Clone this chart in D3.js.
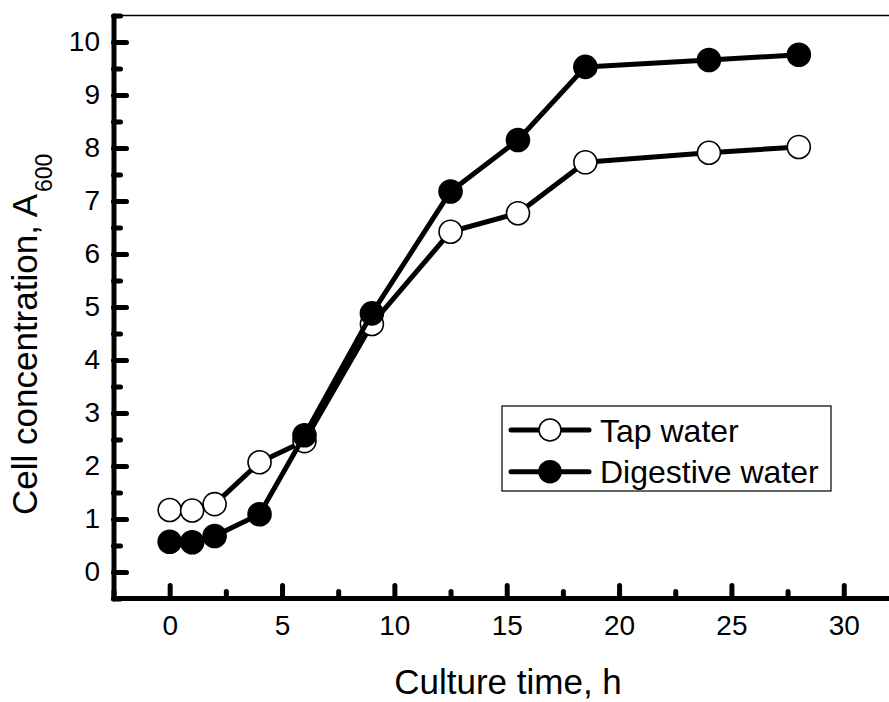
<!DOCTYPE html>
<html>
<head>
<meta charset="utf-8">
<script src="https://cdn.jsdelivr.net/npm/d3@7"></script>
<style>
  html, body { margin: 0; padding: 0; background: #fff; }
  svg { display: block; font-family: "Liberation Sans", Arial, Helvetica, sans-serif; }
</style>
</head>
<body>
<svg id="chart" width="889" height="702"></svg>
<script>
// ---- data ----
const hours        = [0, 1, 2, 4, 6, 9, 12.5, 15.5, 18.5, 24, 28];
const tapWater     = [1.17, 1.16, 1.28, 2.07, 2.47, 4.68, 6.42, 6.77, 7.73, 7.91, 8.02];
const digestWater  = [0.57, 0.56, 0.68, 1.09, 2.58, 4.88, 7.18, 8.15, 9.53, 9.66, 9.76];
const seriesNames  = ["Tap water", "Digestive water"];
const xMajorTicks  = [0, 5, 10, 15, 20, 25, 30];
const xMinorTicks  = [-2.5, 2.5, 7.5, 12.5, 17.5, 22.5, 27.5];
const yMajorTicks  = [0, 1, 2, 3, 4, 5, 6, 7, 8, 9, 10];
const yMinorTicks  = [-0.5, 0.5, 1.5, 2.5, 3.5, 4.5, 5.5, 6.5, 7.5, 8.5, 9.5, 10.5];
const xTitle = "Culture time, h";
const yTitle = "Cell concentration, A";
const ySub   = "600";

// ---- scales ----
const svg = d3.select("#chart");
const x = d3.scaleLinear().domain([-2.5, 32]).range([113.5, 888.7]);
const y = d3.scaleLinear().domain([-0.5, 10.5]).range([598.5, 15.5]);

// top frame line
svg.append("line")
  .attr("x1", x(-2.5)).attr("x2", 889)
  .attr("y1", y(10.5)).attr("y2", y(10.5))
  .attr("stroke", "#000").attr("stroke-width", 1.5);

// minor ticks
const gxMinor = svg.append("g").attr("transform", `translate(0,${y(-0.5)})`)
  .call(d3.axisBottom(x).tickValues(xMinorTicks).tickSize(-7).tickFormat(""));
const gyMinor = svg.append("g").attr("transform", `translate(${x(-2.5)},0)`)
  .call(d3.axisLeft(y).tickValues(yMinorTicks).tickSize(-7).tickFormat(""));
[gxMinor, gyMinor].forEach(g => {
  g.select(".domain").remove();
  g.selectAll(".tick line").attr("stroke", "#000").attr("stroke-width", 5).attr("stroke-linecap", "round");
});

// major axes
const gx = svg.append("g").attr("transform", `translate(0,${y(-0.5)})`)
  .call(d3.axisBottom(x).tickValues(xMajorTicks).tickSize(-13).tickSizeOuter(0).tickPadding(16.5).tickFormat(d3.format("d")));
const gy = svg.append("g").attr("transform", `translate(${x(-2.5)},0)`)
  .call(d3.axisLeft(y).tickValues(yMajorTicks).tickSize(-13).tickSizeOuter(0).tickPadding(14).tickFormat(d3.format("d")));
[gx, gy].forEach(g => {
  g.select(".domain").attr("stroke", "#000").attr("stroke-width", 5).attr("stroke-linecap", "round");
  g.selectAll(".tick line").attr("stroke", "#000").attr("stroke-width", 5).attr("stroke-linecap", "round");
  g.selectAll(".tick text").attr("fill", "#000").style("font-size", "28px")
    .style("font-family", "'Liberation Sans', Arial, sans-serif");
});
gy.selectAll(".tick text").attr("x", -(x(-2.5) - 100));
gx.select(".domain").attr("d", `M${x(-2.5)},0H900`);

// series
const line = d3.line().x(d => x(d[0])).y(d => y(d[1]));
const series = [
  { name: seriesNames[0], vals: tapWater, fill: "#fff" },
  { name: seriesNames[1], vals: digestWater, fill: "#000" }
];
series.forEach(s => {
  const pts = hours.map((h, i) => [h, s.vals[i]]);
  svg.append("path").datum(pts).attr("d", line)
    .attr("fill", "none").attr("stroke", "#000").attr("stroke-width", 5)
    .attr("stroke-linejoin", "round");
  svg.append("g").selectAll("circle").data(pts).join("circle")
    .attr("cx", d => x(d[0])).attr("cy", d => y(d[1])).attr("r", 11.5)
    .attr("fill", s.fill).attr("stroke", "#000").attr("stroke-width", 1.6);
});

// legend
const lg = svg.append("g");
lg.append("rect").attr("x", 502).attr("y", 406).attr("width", 329).attr("height", 85)
  .attr("fill", "#fff").attr("stroke", "#000").attr("stroke-width", 1.2);
series.forEach((s, i) => {
  const cy = 430 + i * 41.7;
  lg.append("line").attr("x1", 511).attr("x2", 589).attr("y1", cy).attr("y2", cy)
    .attr("stroke", "#000").attr("stroke-width", 5).attr("stroke-linecap", "round");
  lg.append("circle").attr("cx", 550).attr("cy", cy).attr("r", 11)
    .attr("fill", s.fill).attr("stroke", "#000").attr("stroke-width", 1.6);
  lg.append("text").attr("x", 600).attr("y", cy + 11.5).text(s.name)
    .style("font-size", "32px").attr("fill", "#000");
});

// axis titles
svg.append("text").attr("x", 508).attr("y", 694).attr("text-anchor", "middle")
  .style("font-size", "35px").attr("fill", "#000").text(xTitle);
const yt = svg.append("text").attr("transform", "translate(37,515) rotate(-90)")
  .attr("text-anchor", "start").style("font-size", "35px").attr("fill", "#000");
yt.append("tspan").text(yTitle);
yt.append("tspan").attr("dx", 2).attr("dy", 15).style("font-size", "23px").text(ySub);
</script>
</body>
</html>
